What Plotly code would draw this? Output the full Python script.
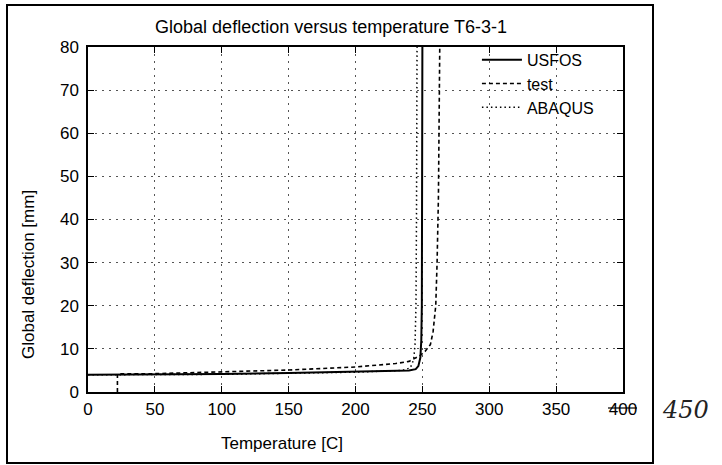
import plotly.graph_objects as go

# ---- data ----
usfos_T = [0, 50, 100, 150, 200, 230, 240, 245, 247, 248.5, 249.2, 249.6, 249.8, 250]
usfos_d = [4.0, 4.05, 4.2, 4.4, 4.7, 4.9, 5.0, 5.3, 6.0, 8.0, 12.0, 20.0, 40.0, 80.0]

test_T = [22, 22, 50, 100, 150, 200, 230, 240, 248, 252, 256, 258, 260, 261, 262, 263]
test_d = [0.0, 4.2, 4.25, 4.6, 5.1, 5.8, 6.6, 7.1, 8.4, 9.4, 11.0, 14.0, 20.0, 30.0, 45.0, 80.0]

abaqus_T = [0, 100, 200, 235, 241, 243.5, 244.5, 245.2, 245.6, 246]
abaqus_d = [4.0, 4.1, 4.6, 5.0, 5.6, 7.5, 11.0, 20.0, 40.0, 80.0]

x_ticks = [0, 50, 100, 150, 200, 250, 300, 350, 400]
y_ticks = [0, 10, 20, 30, 40, 50, 60, 70, 80]

FONT = "Liberation Sans, Arial, sans-serif"

fig = go.Figure()
fig.add_trace(go.Scatter(x=usfos_T, y=usfos_d, mode="lines", name="USFOS",
                         line=dict(color="black", width=2, dash="solid")))
fig.add_trace(go.Scatter(x=test_T, y=test_d, mode="lines", name="test",
                         line=dict(color="black", width=1.6, dash="4px,3px")))
fig.add_trace(go.Scatter(x=abaqus_T, y=abaqus_d, mode="lines", name="ABAQUS",
                         line=dict(color="black", width=1.5, dash="1.5px,3px")))

axis_common = dict(
    showline=True, linecolor="black", linewidth=1.5, mirror="ticks",
    ticks="inside", ticklen=6, tickwidth=1.2, tickcolor="black",
    showgrid=True, gridcolor="#555555", gridwidth=1, griddash="2px,5px",
    zeroline=False, tickfont=dict(family=FONT, size=17, color="black"),
)

fig.update_xaxes(range=[0, 400], tickvals=x_ticks, ticklabelstandoff=1, **axis_common)
fig.update_yaxes(range=[0, 80], tickvals=y_ticks, ticklabelstandoff=4, **axis_common)

fig.update_layout(
    width=722, height=465,
    margin=dict(l=88, r=99, t=47, b=73),
    paper_bgcolor="white", plot_bgcolor="white",
    font=dict(family=FONT, color="black"),
    title=dict(text="Global deflection versus temperature T6-3-1",
               x=331 / 722, xref="container", xanchor="center",
               y=1 - 27 / 465, yref="container", yanchor="middle",
               font=dict(family=FONT, size=18, color="black")),
    showlegend=True,
    legend=dict(x=0.955, y=1.012, xanchor="right", yanchor="top",
                bgcolor="rgba(255,255,255,0)", borderwidth=0,
                font=dict(family=FONT, size=16, color="black"),
                itemwidth=40, tracegroupgap=0),
    annotations=[
        dict(text="Temperature [C]", xref="paper", yref="paper",
             x=(282 - 88) / 535, y=(392 - 443) / 345,
             xanchor="center", yanchor="middle", showarrow=False,
             font=dict(family=FONT, size=17, color="black")),
        dict(text="Global deflection [mm]", xref="paper", yref="paper",
             x=(28 - 88) / 535, y=(392 - 275) / 345, textangle=-90,
             xanchor="center", yanchor="middle", showarrow=False,
             font=dict(family=FONT, size=17, color="black")),
        dict(text="<i>450</i>", xref="paper", yref="paper",
             x=(685 - 88) / 535, y=(392 - 410) / 345,
             xanchor="center", yanchor="middle", showarrow=False,
             font=dict(family="DejaVu Serif, serif", size=24, color="#222222")),
    ],
    shapes=[
        # outer frame of the scanned page
        dict(type="rect", xref="paper", yref="paper",
             x0=(7 - 88) / 535, x1=(653 - 88) / 535,
             y0=(392 - 463) / 345, y1=(392 - 5) / 345,
             line=dict(color="black", width=2)),
        # strike through the "400" tick label
        dict(type="line", xref="paper", yref="paper",
             x0=(608 - 88) / 535, x1=(637 - 88) / 535,
             y0=(392 - 408) / 345, y1=(392 - 408) / 345,
             line=dict(color="black", width=1.2)),
    ],
)

fig.write_html("out.html",
               config={"displayModeBar": False},
               post_script="document.body.style.margin='0';"
                           "document.body.style.overflow='hidden';")
